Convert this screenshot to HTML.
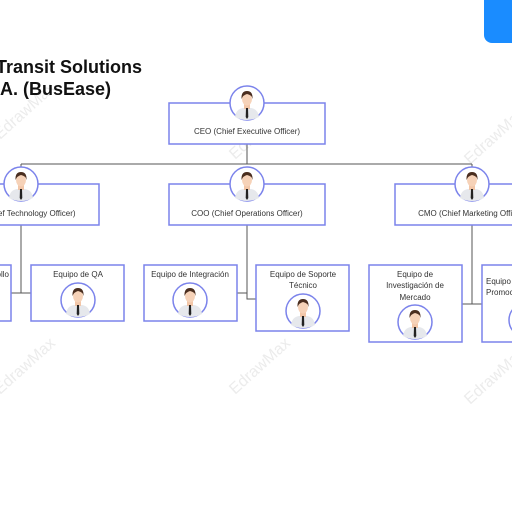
<!DOCTYPE html>
<html><head><meta charset="utf-8"><style>
html,body{margin:0;padding:0;background:#fff;width:512px;height:512px;overflow:hidden}
svg{display:block}
text{font-family:"Liberation Sans",sans-serif}
</style></head><body>
<svg width="512" height="512" viewBox="0 0 512 512" xmlns="http://www.w3.org/2000/svg">
<defs>
<g id="av">
  <circle cx="0" cy="0" r="17" fill="#fff" stroke="#7b83eb" stroke-width="1.5"/>
  <path d="M-12,14 Q-11,6 -4,5 L4,5 Q11,6 12,14 Q6,17 0,17 Q-6,17 -12,14Z" fill="#e6e8ec"/>
  <rect x="-3" y="0" width="6" height="6" fill="#f2c6a8"/>
  <ellipse cx="0" cy="-4" rx="5" ry="6.5" fill="#f6d2b8"/>
  <path d="M-5.5,-4 Q-6,-12 0,-12 Q6,-12 5.5,-4 Q5,-8 0,-9 Q-4,-8 -5.5,-4Z" fill="#4a2e1f"/>
  <path d="M-1,5 L1,5 L1.3,14 L0,16 L-1.3,14Z" fill="#222"/>
</g>
</defs>
<g fill="#ececec" font-size="16" font-family="Liberation Sans,sans-serif">
  <text transform="translate(235,160) rotate(-42)">EdrawMax</text>
  <text transform="translate(470,165) rotate(-42)">EdrawMax</text>
  <text transform="translate(0,140) rotate(-42)">EdrawMax</text>
  <text transform="translate(235,395) rotate(-42)">EdrawMax</text>
  <text transform="translate(470,405) rotate(-42)">EdrawMax</text>
  <text transform="translate(0,395) rotate(-42)">EdrawMax</text>
</g>
<rect x="484" y="-10" width="40" height="53" rx="8" fill="#1a8cff"/>
<text x="142" y="73" font-size="18" font-weight="bold" fill="#111" text-anchor="end">Transit Solutions</text>
<text x="111" y="95" font-size="18" font-weight="bold" fill="#111" text-anchor="end">A. (BusEase)</text>
<g stroke="#555" stroke-width="1" fill="none">
  <path d="M247,144 V164 M21,164 H472 M21,164 V184 M472,164 V184"/>
  <path d="M21,225 V293 M11,293 H31"/>
  <path d="M247,225 V299 H256 M237,293 H247"/>
  <path d="M472,225 V304 M462,304 H482"/>
</g>
<g fill="#fff" stroke="#7b83eb" stroke-width="1.5">
  <rect x="169" y="103" width="156" height="41"/>
  <rect x="-60" y="184" width="159" height="41"/>
  <rect x="169" y="184" width="156" height="41"/>
  <rect x="395" y="184" width="156" height="41"/>
  <rect x="-60" y="265" width="71" height="56"/>
  <rect x="31" y="265" width="93" height="56"/>
  <rect x="144" y="265" width="93" height="56"/>
  <rect x="256" y="265" width="93" height="66"/>
  <rect x="369" y="265" width="93" height="77"/>
  <rect x="482" y="265" width="93" height="77"/>
</g>
<use href="#av" x="247" y="103"/>
<use href="#av" x="21" y="184"/>
<use href="#av" x="247" y="184"/>
<use href="#av" x="472" y="184"/>
<use href="#av" x="78" y="300"/>
<use href="#av" x="190" y="300"/>
<use href="#av" x="303" y="311"/>
<use href="#av" x="415" y="322"/>
<use href="#av" x="526" y="320"/>
<g font-size="8" fill="#333" text-anchor="middle">
  <text x="247" y="134">CEO (Chief Executive Officer)</text>
  <text x="20" y="216">CTO (Chief Technology Officer)</text>
  <text x="247" y="216">COO (Chief Operations Officer)</text>
  <text x="472" y="216">CMO (Chief Marketing Officer)</text>
  <text x="9" y="277" text-anchor="end">Equipo de Desarrollo</text>
  <text x="78" y="277">Equipo de QA</text>
  <text x="190" y="277">Equipo de Integración</text>
  <text x="303" y="277">Equipo de Soporte</text>
  <text x="303" y="288">Técnico</text>
  <text x="415" y="277">Equipo de</text>
  <text x="415" y="288">Investigación de</text>
  <text x="415" y="300">Mercado</text>
  <text x="486" y="284" text-anchor="start">Equipo de</text>
  <text x="486" y="295" text-anchor="start">Promoción</text>
</g>
</svg>
</body></html>
